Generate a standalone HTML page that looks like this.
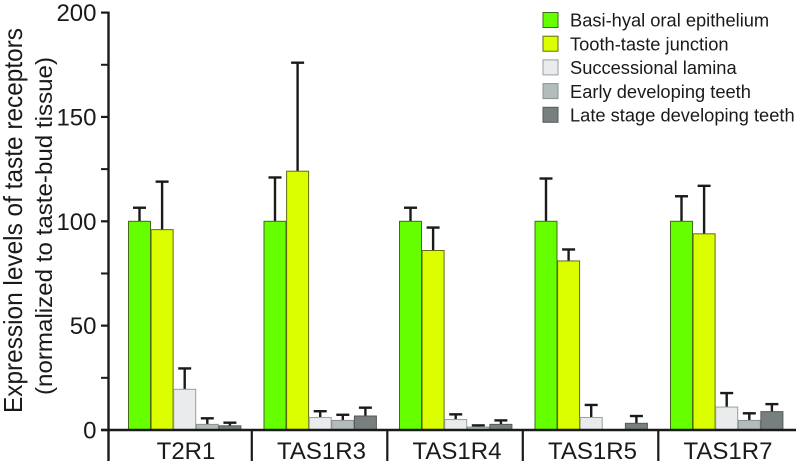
<!DOCTYPE html>
<html>
<head>
<meta charset="utf-8">
<style>
html,body{margin:0;padding:0;background:#fff;width:796px;height:465px;overflow:hidden}
svg{display:block}
text{font-family:"Liberation Sans",sans-serif;fill:#1a1a1a}
</style>
</head>
<body>
<svg id="chart" width="796" height="465" viewBox="0 0 796 465" xmlns="http://www.w3.org/2000/svg">
  <g id="bars"></g>
  <g id="axes"></g>
  <g>
    <text transform="translate(22,220.5) rotate(-90)" text-anchor="middle" font-size="26" textLength="385" lengthAdjust="spacingAndGlyphs">Expression levels of taste receptors</text>
    <text transform="translate(52,226) rotate(-90)" text-anchor="middle" font-size="23" textLength="338" lengthAdjust="spacingAndGlyphs">(normalized to taste-bud tissue)</text>
  </g>
  <g id="legend"></g>
</svg>
<script>
const categories = ["T2R1", "TAS1R3", "TAS1R4", "TAS1R5", "TAS1R7"];
const seriesNames = ["Basi-hyal oral epithelium", "Tooth-taste junction", "Successional lamina", "Early developing teeth", "Late stage developing teeth"];
const seriesBasiHyal = [100, 100, 100, 100, 100];
const seriesToothTaste = [96, 124, 86, 81, 94];
const seriesSuccessional = [19.5, 6, 5, 6, 11];
const seriesEarly = [2.7, 4.6, 1.4, 0, 4.6];
const seriesLate = [2, 6.7, 2.7, 3.2, 8.8];
const errorTopBasiHyal = [106.5, 121, 106.5, 120.5, 112];
const errorTopToothTaste = [119, 176, 97, 86.5, 117];
const errorTopSuccessional = [29.5, 9, 7.5, 12, 17.7];
const errorTopEarly = [5.6, 7.3, 2.2, 0, 8];
const errorTopLate = [3.5, 10.7, 4.6, 6.7, 12.4];
const yTicks = [0, 50, 100, 150, 200];
const yMinorTicks = [25, 75, 125, 175];

const allSeries = [seriesBasiHyal, seriesToothTaste, seriesSuccessional, seriesEarly, seriesLate];
const allErrors = [errorTopBasiHyal, errorTopToothTaste, errorTopSuccessional, errorTopEarly, errorTopLate];
const fills = ["#66ff00", "#dcff00", "#e9ebec", "#b3bcbc", "#78807f"];
const strokes = ["#3f6b1a", "#5f6a10", "#9a9e9e", "#8a9090", "#555a5a"];

const NS = "http://www.w3.org/2000/svg";
const axisX = 108.5, baseY = 430, pxPerUnit = 2.087;
const groupStart = 128.5, groupStep = 135.5, barStep = 22.6, barW = 22;
function y(v) { return baseY - v * pxPerUnit; }
function groupX(i) { return groupStart + i * groupStep; }
function barX(g, s) { return groupX(g) + s * barStep; }
function make(tag, attrs, parent) {
  const el = document.createElementNS(NS, tag);
  for (const k in attrs) el.setAttribute(k, attrs[k]);
  parent.appendChild(el);
  return el;
}
const barsG = document.getElementById("bars");
const axesG = document.getElementById("axes");
const legendG = document.getElementById("legend");

allSeries.forEach(function (vals, s) {
  vals.forEach(function (v, g) {
    const top = allErrors[s][g];
    const cx = barX(g, s) + barW / 2;
    if (top > v) {
      const stem = make("line", {x1: cx, x2: cx, y1: y(v), y2: y(top), stroke: "#1a1a1a", "stroke-width": 2.4}, barsG);
      
      
      const cap = make("line", {x1: cx - 6.5, x2: cx + 6.5, y1: y(top), y2: y(top), stroke: "#1a1a1a", "stroke-width": 2.4}, barsG);
      
      
    }
    if (v > 0) {
      const bar = make("rect", {x: barX(g, s), y: y(v), width: barW, height: baseY - y(v), fill: fills[s], stroke: strokes[s], "stroke-width": 1}, barsG);
      
      
    }
  });
});

const yAxis = make("line", {x1: axisX, x2: axisX, y1: y(200) - 1, y2: 461, stroke: "#1a1a1a", "stroke-width": 2.4}, axesG);


const xAxis = make("line", {x1: 101, x2: 796, y1: baseY, y2: baseY, stroke: "#1a1a1a", "stroke-width": 2.4}, axesG);



yTicks.forEach(function (t) {
  const tick = make("line", {x1: 101, x2: axisX, y1: y(t), y2: y(t), stroke: "#1a1a1a", "stroke-width": 2.2}, axesG);
  
  
  const label = make("text", {x: 96.5, y: y(t) + 8.5, "text-anchor": "end", "font-size": 24}, axesG);
  
  
  label.textContent = t;
});
yMinorTicks.forEach(function (t) {
  const tick = make("line", {x1: 101, x2: axisX, y1: y(t), y2: y(t), stroke: "#1a1a1a", "stroke-width": 2}, axesG);
  
  
});

categories.forEach(function (c, g) {
  const label = make("text", {x: groupX(g) + 57.5, y: 459, "text-anchor": "middle", "font-size": 24}, axesG);
  
  
  label.textContent = c;
  if (g < categories.length - 1) {
    const sep = make("line", {x1: groupX(g) + 123.3, x2: groupX(g) + 123.3, y1: baseY, y2: 461, stroke: "#1a1a1a", "stroke-width": 2.2}, axesG);
    
    
  }
});

seriesNames.forEach(function (n, s) {
  const ly = 20 + s * 23.7;
  const swatch = make("rect", {x: 543, y: ly - 7.5, width: 15, height: 15, fill: fills[s], stroke: strokes[s], "stroke-width": 1}, legendG);
  
  
  const text = make("text", {x: 570, y: ly + 6.7, "font-size": 18.3}, legendG);
  
  
  text.textContent = n;
});
</script>
</body>
</html>
